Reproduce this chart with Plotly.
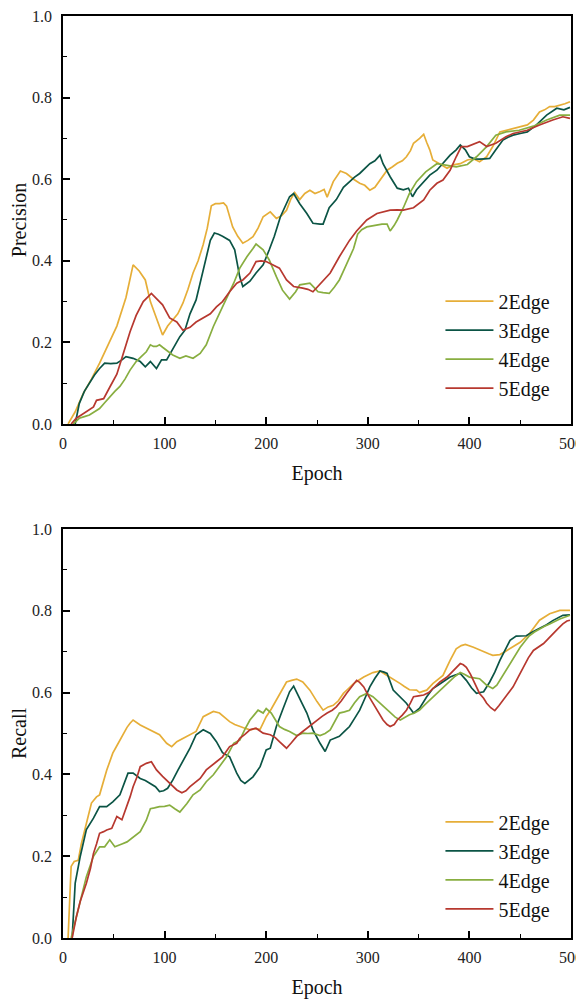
import plotly.graph_objects as go
from plotly.subplots import make_subplots

# ---------------- Precision data ----------------
p2_x = [5, 12, 20, 28, 36, 45, 53, 62, 69, 75, 81, 86, 92, 98, 103, 108, 113, 118, 123, 128, 133, 138, 142, 146, 150, 154, 158, 161, 164, 167, 172, 177, 182, 187, 192, 197, 204, 210, 215, 220, 224, 228, 233, 238, 243, 248, 253, 257, 260, 266, 273, 279, 286, 292, 297, 302, 307, 312, 319, 324, 329, 334, 338, 342, 345, 351, 355, 358, 361, 364, 368, 371, 378, 384, 391, 398, 404, 410, 417, 423, 430, 436, 443, 450, 457, 463, 469, 474, 479, 484, 489, 494, 499]
p2_y = [0.0, 0.03, 0.075, 0.11, 0.149, 0.195, 0.24, 0.31, 0.39, 0.375, 0.353, 0.30, 0.26, 0.218, 0.24, 0.255, 0.27, 0.296, 0.33, 0.37, 0.40, 0.44, 0.48, 0.535, 0.54, 0.54, 0.542, 0.534, 0.51, 0.483, 0.46, 0.443, 0.45, 0.459, 0.48, 0.508, 0.52, 0.504, 0.51, 0.524, 0.55, 0.567, 0.55, 0.565, 0.573, 0.565, 0.57, 0.575, 0.556, 0.594, 0.62, 0.614, 0.60, 0.59, 0.585, 0.573, 0.58, 0.598, 0.622, 0.63, 0.639, 0.645, 0.655, 0.67, 0.688, 0.70, 0.71, 0.69, 0.672, 0.647, 0.64, 0.637, 0.627, 0.635, 0.638, 0.647, 0.65, 0.643, 0.655, 0.68, 0.716, 0.72, 0.723, 0.728, 0.733, 0.745, 0.765, 0.77, 0.778, 0.778, 0.781, 0.785, 0.79]

p3_x = [12, 16, 21, 26, 31, 36, 41, 47, 53, 58, 62, 69, 76, 81, 86, 92, 97, 102, 108, 115, 120, 125, 131, 138, 145, 149, 153, 157, 164, 169, 174, 177, 184, 190, 197, 203, 208, 214, 219, 223, 227, 233, 240, 246, 253, 256, 262, 269, 276, 282, 287, 292, 297, 302, 307, 312, 315, 322, 329, 335, 340, 344, 348, 355, 361, 368, 374, 381, 387, 391, 396, 400, 405, 410, 415, 420, 426, 433, 438, 443, 450, 457, 466, 476, 486, 493, 499]
p3_y = [0.0, 0.05, 0.08, 0.10, 0.12, 0.136, 0.149, 0.148, 0.149, 0.157, 0.165, 0.161, 0.153, 0.14, 0.153, 0.136, 0.157, 0.157, 0.185, 0.214, 0.23, 0.27, 0.304, 0.377, 0.45, 0.468, 0.465, 0.46, 0.45, 0.427, 0.36, 0.337, 0.35, 0.37, 0.39, 0.427, 0.46, 0.508, 0.535, 0.557, 0.565, 0.54, 0.516, 0.492, 0.49, 0.49, 0.53, 0.55, 0.58, 0.594, 0.605, 0.614, 0.625, 0.638, 0.645, 0.659, 0.638, 0.606, 0.578, 0.574, 0.578, 0.557, 0.574, 0.594, 0.61, 0.622, 0.638, 0.659, 0.672, 0.684, 0.672, 0.655, 0.65, 0.649, 0.65, 0.651, 0.672, 0.696, 0.703, 0.708, 0.712, 0.716, 0.733, 0.757, 0.774, 0.77, 0.776]

p4_x = [10, 16, 21, 26, 31, 36, 41, 46, 51, 56, 61, 66, 72, 77, 82, 86, 89, 92, 95, 98, 102, 108, 115, 121, 128, 135, 141, 148, 154, 161, 168, 174, 181, 187, 190, 197, 203, 210, 216, 223, 229, 233, 238, 243, 247, 251, 256, 262, 267, 272, 277, 282, 286, 290, 294, 299, 304, 309, 314, 319, 322, 326, 329, 335, 341, 348, 357, 368, 378, 387, 398, 407, 417, 426, 436, 449, 463, 476, 489, 499]
p4_y = [0.0, 0.014, 0.018, 0.022, 0.03, 0.038, 0.052, 0.067, 0.08, 0.092, 0.11, 0.132, 0.153, 0.165, 0.177, 0.194, 0.19, 0.19, 0.194, 0.188, 0.181, 0.169, 0.161, 0.167, 0.161, 0.173, 0.194, 0.239, 0.271, 0.308, 0.345, 0.382, 0.41, 0.43, 0.441, 0.427, 0.402, 0.361, 0.328, 0.306, 0.324, 0.341, 0.343, 0.345, 0.335, 0.324, 0.322, 0.32, 0.335, 0.353, 0.38, 0.41, 0.43, 0.465, 0.476, 0.483, 0.485, 0.487, 0.49, 0.49, 0.473, 0.487, 0.5, 0.53, 0.565, 0.594, 0.618, 0.638, 0.634, 0.63, 0.636, 0.655, 0.68, 0.708, 0.716, 0.72, 0.73, 0.745, 0.757, 0.757]

p5_x = [8, 13, 18, 23, 30, 33, 40, 46, 53, 59, 66, 72, 79, 87, 92, 98, 105, 112, 118, 125, 131, 138, 145, 151, 157, 164, 171, 177, 184, 190, 195, 200, 207, 213, 220, 227, 236, 241, 246, 254, 263, 272, 282, 289, 299, 309, 315, 322, 329, 335, 345, 355, 361, 368, 374, 381, 387, 392, 398, 404, 410, 417, 426, 436, 443, 457, 469, 482, 492, 499]
p5_y = [0.0, 0.014, 0.022, 0.03, 0.042, 0.058, 0.062, 0.09, 0.122, 0.17, 0.226, 0.266, 0.30, 0.32, 0.308, 0.292, 0.26, 0.25, 0.23, 0.237, 0.25, 0.26, 0.27, 0.287, 0.30, 0.324, 0.345, 0.353, 0.37, 0.398, 0.40, 0.398, 0.39, 0.382, 0.353, 0.337, 0.333, 0.33, 0.324, 0.345, 0.37, 0.41, 0.45, 0.473, 0.50, 0.516, 0.52, 0.524, 0.525, 0.524, 0.53, 0.549, 0.573, 0.59, 0.598, 0.622, 0.655, 0.68, 0.68, 0.686, 0.692, 0.68, 0.688, 0.704, 0.712, 0.72, 0.733, 0.745, 0.753, 0.749]

# ---------------- Recall data ----------------
r2_x = [5, 8, 11, 15, 18, 23, 28, 33, 36, 43, 49, 53, 56, 59, 63, 66, 69, 76, 81, 86, 91, 95, 102, 107, 112, 117, 122, 127, 131, 138, 143, 148, 154, 159, 164, 169, 174, 179, 184, 189, 194, 200, 205, 210, 215, 220, 225, 230, 236, 243, 250, 256, 261, 266, 271, 276, 281, 286, 291, 296, 305, 312, 317, 322, 327, 332, 336, 341, 348, 351, 354, 358, 364, 369, 374, 381, 387, 392, 396, 404, 409, 414, 419, 423, 430, 435, 440, 450, 459, 469, 479, 489, 499]
r2_y = [0.0, 0.175, 0.187, 0.19, 0.23, 0.28, 0.33, 0.345, 0.35, 0.41, 0.452, 0.47, 0.484, 0.50, 0.515, 0.525, 0.533, 0.521, 0.515, 0.509, 0.503, 0.497, 0.476, 0.468, 0.48, 0.487, 0.493, 0.50, 0.505, 0.541, 0.548, 0.554, 0.55, 0.54, 0.529, 0.522, 0.517, 0.513, 0.509, 0.512, 0.51, 0.541, 0.56, 0.581, 0.605, 0.626, 0.63, 0.633, 0.626, 0.606, 0.578, 0.557, 0.565, 0.569, 0.58, 0.598, 0.61, 0.622, 0.63, 0.638, 0.649, 0.653, 0.645, 0.638, 0.63, 0.622, 0.615, 0.607, 0.606, 0.60, 0.603, 0.606, 0.622, 0.632, 0.642, 0.679, 0.707, 0.715, 0.718, 0.711, 0.705, 0.699, 0.695, 0.691, 0.693, 0.70, 0.707, 0.723, 0.744, 0.777, 0.793, 0.801, 0.801]

r3_x = [9, 12, 17, 23, 30, 36, 43, 49, 56, 60, 64, 69, 76, 81, 86, 91, 95, 99, 103, 108, 113, 117, 121, 125, 131, 138, 145, 151, 157, 164, 171, 175, 179, 183, 187, 194, 200, 204, 210, 216, 223, 227, 231, 236, 240, 246, 253, 258, 263, 268, 272, 277, 282, 287, 292, 297, 302, 307, 312, 316, 319, 325, 332, 338, 345, 351, 358, 364, 369, 374, 381, 386, 391, 397, 402, 407, 414, 420, 425, 430, 435, 440, 446, 451, 456, 462, 469, 476, 482, 492, 499]
r3_y = [0.0, 0.134, 0.2, 0.265, 0.293, 0.321, 0.321, 0.333, 0.35, 0.375, 0.403, 0.403, 0.39, 0.385, 0.378, 0.37, 0.358, 0.36, 0.366, 0.386, 0.41, 0.427, 0.445, 0.464, 0.497, 0.509, 0.50, 0.48, 0.453, 0.443, 0.403, 0.385, 0.378, 0.385, 0.394, 0.419, 0.46, 0.464, 0.517, 0.557, 0.602, 0.616, 0.594, 0.57, 0.55, 0.509, 0.476, 0.456, 0.484, 0.49, 0.493, 0.505, 0.517, 0.537, 0.557, 0.585, 0.614, 0.635, 0.653, 0.65, 0.647, 0.606, 0.59, 0.574, 0.55, 0.562, 0.59, 0.61, 0.618, 0.626, 0.638, 0.643, 0.647, 0.63, 0.612, 0.598, 0.602, 0.626, 0.65, 0.679, 0.705, 0.728, 0.738, 0.738, 0.739, 0.748, 0.756, 0.766, 0.776, 0.789, 0.79]

r4_x = [8, 12, 17, 23, 30, 36, 41, 46, 51, 55, 58, 63, 67, 71, 76, 82, 86, 90, 95, 100, 105, 110, 115, 122, 128, 135, 141, 148, 154, 161, 168, 174, 179, 184, 188, 192, 197, 200, 205, 209, 213, 218, 223, 230, 236, 241, 246, 253, 258, 263, 268, 272, 277, 282, 287, 292, 299, 305, 312, 317, 322, 327, 332, 337, 341, 346, 351, 356, 361, 366, 371, 376, 381, 386, 391, 395, 400, 405, 410, 417, 423, 427, 430, 435, 440, 445, 450, 455, 459, 464, 469, 474, 479, 489, 499]
r4_y = [0.0, 0.04, 0.085, 0.15, 0.2, 0.223, 0.223, 0.24, 0.223, 0.228, 0.23, 0.235, 0.243, 0.25, 0.26, 0.288, 0.316, 0.318, 0.321, 0.322, 0.325, 0.316, 0.308, 0.329, 0.35, 0.362, 0.382, 0.399, 0.419, 0.443, 0.476, 0.484, 0.51, 0.533, 0.545, 0.557, 0.55, 0.561, 0.55, 0.532, 0.517, 0.51, 0.505, 0.495, 0.501, 0.50, 0.501, 0.495, 0.50, 0.509, 0.53, 0.55, 0.553, 0.557, 0.575, 0.59, 0.598, 0.59, 0.574, 0.562, 0.55, 0.54, 0.533, 0.54, 0.546, 0.55, 0.557, 0.57, 0.582, 0.594, 0.606, 0.618, 0.63, 0.64, 0.649, 0.645, 0.638, 0.636, 0.634, 0.618, 0.61, 0.618, 0.63, 0.65, 0.671, 0.69, 0.711, 0.727, 0.739, 0.748, 0.756, 0.762, 0.768, 0.78, 0.789]

r5_x = [9, 13, 17, 20, 23, 27, 30, 33, 36, 40, 43, 48, 53, 58, 63, 66, 69, 73, 76, 82, 87, 92, 98, 105, 112, 117, 121, 125, 130, 135, 141, 146, 151, 157, 164, 171, 174, 179, 184, 190, 197, 204, 209, 213, 217, 220, 225, 230, 235, 240, 245, 250, 255, 260, 265, 269, 274, 279, 284, 289, 292, 296, 300, 305, 310, 315, 319, 322, 326, 329, 334, 338, 342, 345, 350, 355, 360, 364, 371, 378, 384, 388, 391, 394, 397, 401, 404, 407, 410, 414, 417, 421, 425, 429, 433, 438, 443, 448, 453, 458, 463, 468, 473, 477, 482, 487, 492, 496, 499]
r5_y = [0.0, 0.05, 0.09, 0.11, 0.134, 0.17, 0.207, 0.23, 0.256, 0.26, 0.264, 0.268, 0.297, 0.289, 0.321, 0.345, 0.37, 0.395, 0.419, 0.427, 0.431, 0.411, 0.395, 0.378, 0.362, 0.355, 0.36, 0.37, 0.38, 0.39, 0.411, 0.422, 0.431, 0.443, 0.468, 0.476, 0.488, 0.498, 0.509, 0.513, 0.501, 0.497, 0.49, 0.48, 0.47, 0.464, 0.478, 0.493, 0.503, 0.513, 0.523, 0.533, 0.542, 0.55, 0.557, 0.565, 0.58, 0.598, 0.614, 0.63, 0.625, 0.614, 0.595, 0.574, 0.553, 0.533, 0.522, 0.517, 0.522, 0.533, 0.545, 0.557, 0.575, 0.59, 0.592, 0.594, 0.6, 0.61, 0.626, 0.638, 0.654, 0.665, 0.671, 0.668, 0.662, 0.645, 0.63, 0.612, 0.598, 0.586, 0.574, 0.563, 0.556, 0.568, 0.582, 0.598, 0.614, 0.638, 0.662, 0.685, 0.703, 0.712, 0.72, 0.73, 0.744, 0.756, 0.768, 0.775, 0.777]

names = ["2Edge", "3Edge", "4Edge", "5Edge"]
colors = ["#E6AE38", "#0B5445", "#88AE40", "#B7382F"]

prec = [(p2_x, p2_y), (p3_x, p3_y), (p4_x, p4_y), (p5_x, p5_y)]
rec = [(r2_x, r2_y), (r3_x, r3_y), (r4_x, r4_y), (r5_x, r5_y)]

fig = make_subplots(rows=2, cols=1, shared_xaxes=False, vertical_spacing=0.1)

for (x, y), n, c in zip(prec, names, colors):
    fig.add_trace(go.Scatter(x=x, y=y, mode="lines", name=n,
                             line=dict(color=c, width=1.7), legend="legend"), row=1, col=1)
for (x, y), n, c in zip(rec, names, colors):
    fig.add_trace(go.Scatter(x=x, y=y, mode="lines", name=n,
                             line=dict(color=c, width=1.7), legend="legend2"), row=2, col=1)

FONT = "Liberation Serif"

axis_common = dict(
    showline=True, linecolor="black", linewidth=1.5, mirror=True,
    ticks="inside", ticklen=7, tickwidth=1.5, tickcolor="black",
    showgrid=False, zeroline=False, automargin=False,
    ticklabeloverflow="allow",
    tickfont=dict(family=FONT, size=16, color="#222"),
)

for r in (1, 2):
    fig.update_xaxes(range=[0, 500], dtick=100, tick0=0,
                     minor=dict(ticks="inside", ticklen=4, tickwidth=1.2, dtick=50, tickcolor="black"),
                     title=dict(text="Epoch", font=dict(family=FONT, size=20, color="#111"), standoff=15),
                     ticklabelstandoff=4,
                     row=r, col=1, **axis_common)
    fig.update_yaxes(range=[0, 1], dtick=0.2, tick0=0, tickformat=".1f",
                     minor=dict(ticks="inside", ticklen=4, tickwidth=1.2, dtick=0.1, tickcolor="black"),
                     ticklabelstandoff=6,
                     row=r, col=1, **axis_common)

fig.update_yaxes(title=dict(text="Precision", font=dict(family=FONT, size=20, color="#111"), standoff=1), row=1, col=1)
fig.update_yaxes(title=dict(text="Recall", font=dict(family=FONT, size=20, color="#111"), standoff=1), row=2, col=1)

# the page body adds an 8px offset; figure sized to fill the remaining window
fig.update_layout(
    width=576, height=992,
    margin=dict(l=55, r=13, t=8, b=62),
    paper_bgcolor="white", plot_bgcolor="white",
    font=dict(family=FONT, color="#111"),
    yaxis=dict(domain=[0.5575, 1.0]),
    yaxis2=dict(domain=[0.0, 0.4436]),
    legend=dict(x=0.743, y=0.712, xanchor="left", yanchor="top",
                bgcolor="rgba(0,0,0,0)", font=dict(family=FONT, size=20, color="#111"),
                itemwidth=48, tracegroupgap=0),
    legend2=dict(x=0.743, y=0.147, xanchor="left", yanchor="top",
                 bgcolor="rgba(0,0,0,0)", font=dict(family=FONT, size=20, color="#111"),
                 itemwidth=48, tracegroupgap=0),
)

fig.write_html("out.html")
